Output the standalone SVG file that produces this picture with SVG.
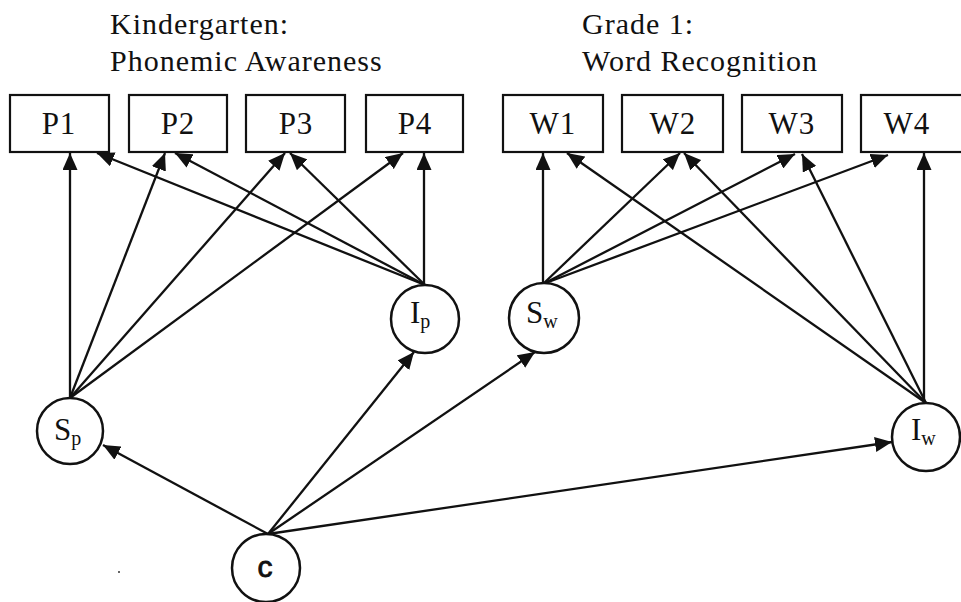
<svg xmlns="http://www.w3.org/2000/svg" width="961" height="602" viewBox="0 0 961 602">
<style>
.title{font-family:"Liberation Serif","Times New Roman",serif;font-size:30px;letter-spacing:1px;fill:#111}
.box rect{fill:#fff;stroke:#111;stroke-width:2.2}
.box text{font-family:"Liberation Serif","Times New Roman",serif;font-size:31px;letter-spacing:1px;fill:#111;text-anchor:middle}
.node circle{fill:#fff;stroke:#111;stroke-width:2.5}
.node text{font-family:"Liberation Serif","Times New Roman",serif;font-size:31px;fill:#111}
.sub{font-size:20px}
.edges line{stroke:#111;stroke-width:2.3;marker-end:url(#ah)}
</style>
<defs>
<marker id="ah" markerUnits="userSpaceOnUse" markerWidth="18" markerHeight="15" refX="17" refY="7.5" orient="auto">
<path d="M0,0 L17,7.5 L0,15 Z" fill="#111"/>
</marker>
</defs>
<rect width="961" height="602" fill="#fff"/>
<text class="title" x="110" y="34">Kindergarten:</text>
<text class="title" x="110" y="71">Phonemic Awareness</text>
<text class="title" x="582" y="34">Grade 1:</text>
<text class="title" x="582" y="71">Word Recognition</text>

<g class="edges" id="connectors">
<line x1="70" y1="398" x2="70" y2="153"/>
<line x1="70" y1="398" x2="165" y2="153"/>
<line x1="70" y1="398" x2="285" y2="153"/>
<line x1="70" y1="398" x2="403" y2="153"/>
<line x1="425" y1="285" x2="97" y2="153"/>
<line x1="425" y1="285" x2="175" y2="153"/>
<line x1="425" y1="285" x2="290" y2="153"/>
<line x1="424" y1="285" x2="424" y2="153"/>
<line x1="543" y1="284" x2="543" y2="153"/>
<line x1="543" y1="284" x2="680" y2="153"/>
<line x1="543" y1="284" x2="795" y2="154"/>
<line x1="543" y1="284" x2="888" y2="155"/>
<line x1="926" y1="403" x2="567" y2="153"/>
<line x1="926" y1="403" x2="684" y2="153"/>
<line x1="926" y1="403" x2="802" y2="154"/>
<line x1="924" y1="403" x2="924" y2="153"/>
<line x1="268" y1="534" x2="103" y2="445"/>
<line x1="268" y1="534" x2="414" y2="352"/>
<line x1="268" y1="534" x2="535" y2="352"/>
<line x1="268" y1="534" x2="892" y2="442"/>
</g>

<g class="box" id="P1"><rect x="10" y="95" width="99" height="57"/><text x="59" y="134">P1</text></g>
<g class="box" id="P2"><rect x="129" y="95" width="98" height="57"/><text x="178" y="134">P2</text></g>
<g class="box" id="P3"><rect x="246" y="95" width="99" height="57"/><text x="296" y="134">P3</text></g>
<g class="box" id="P4"><rect x="366" y="95" width="97" height="57"/><text x="415" y="134">P4</text></g>
<g class="box" id="W1"><rect x="503" y="95" width="100" height="57"/><text x="553" y="134">W1</text></g>
<g class="box" id="W2"><rect x="622" y="95" width="101" height="57"/><text x="673" y="134">W2</text></g>
<g class="box" id="W3"><rect x="742" y="95" width="100" height="57"/><text x="792" y="134">W3</text></g>
<g class="box" id="W4"><rect x="861" y="95" width="103" height="57"/><text x="907" y="134">W4</text></g>

<g class="node" id="Ip"><circle cx="425" cy="319" r="34"/><text x="410" y="323">I<tspan class="sub" dy="5">p</tspan></text></g>
<g class="node" id="Sw"><circle cx="544" cy="318" r="35"/><text x="526" y="323">S<tspan class="sub" dy="5">w</tspan></text></g>
<g class="node" id="Sp"><circle cx="70" cy="431" r="33"/><text x="54" y="440">S<tspan class="sub" dy="5">p</tspan></text></g>
<g class="node" id="Iw"><circle cx="926" cy="437" r="34"/><text x="911" y="440">I<tspan class="sub" dy="5">w</tspan></text></g>
<g class="node" id="c"><circle cx="266" cy="568" r="34"/><text x="265" y="577" style="font-family:'Liberation Sans',Arial,sans-serif;font-size:30px;text-anchor:middle;stroke:#111;stroke-width:0.9">c</text></g>
<circle cx="119" cy="572" r="1" fill="#333"/>
</svg>
